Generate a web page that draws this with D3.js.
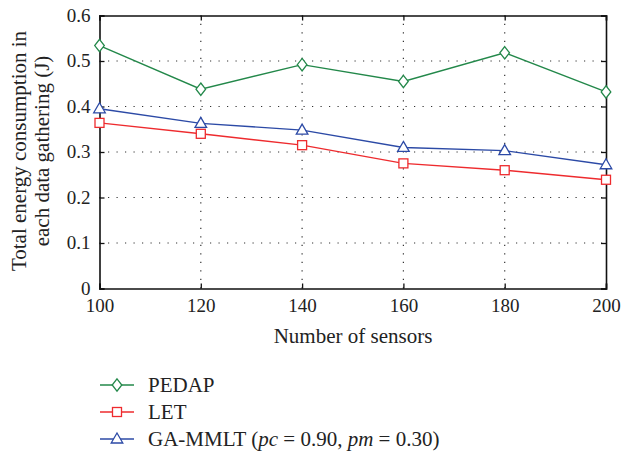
<!DOCTYPE html>
<html>
<head>
<meta charset="utf-8">
<script src="https://cdn.jsdelivr.net/npm/d3@7"></script>
<style>
  body { margin: 0; background: #fff; }
  text { font-family: "Liberation Serif", "DejaVu Serif", serif; fill: #222; }
</style>
</head>
<body>
<div id="container"></div>
<script>
/* DATA */
const sensors = [100, 120, 140, 160, 180, 200];
const pedap = [0.534, 0.438, 0.492, 0.455, 0.518, 0.432];
const let_ = [0.364, 0.340, 0.315, 0.275, 0.260, 0.239];
const gaMmlt = [0.395, 0.363, 0.348, 0.310, 0.303, 0.272];
const yTicks = [0, 0.1, 0.2, 0.3, 0.4, 0.5, 0.6];

const width = 621, height = 452;

const series = [
  { name: "PEDAP", values: pedap, color: "#23884a", shape: "diamond" },
  { name: "LET", values: let_, color: "#ee2b2e", shape: "square" },
  { name: "GA-MMLT", values: gaMmlt, color: "#2c4aa6", shape: "triangle" }
];

const svg = d3.select("#container").append("svg")
  .attr("width", width).attr("height", height);

const xScale = d3.scaleLinear().domain([100, 200]).range([99.5, 606]);
const yScale = d3.scaleLinear().domain([0, 0.6]).range([288.5, 15.5]);

// grid
svg.append("g").selectAll("line.gy")
  .data(yTicks.slice(1, -1)).join("line")
  .attr("x1", xScale(100)).attr("x2", xScale(200))
  .attr("y1", d => yScale(d)).attr("y2", d => yScale(d))
  .attr("stroke", "#333").attr("stroke-width", 1.2).attr("stroke-dasharray", "1.2,7.3");
svg.append("g").selectAll("line.gx")
  .data(sensors.slice(1, -1)).join("line")
  .attr("x1", d => xScale(d)).attr("x2", d => xScale(d))
  .attr("y1", yScale(0)).attr("y2", yScale(0.6))
  .attr("stroke", "#333").attr("stroke-width", 1.2).attr("stroke-dasharray", "1.2,7.3");

// axes (inner ticks all round)
const tickFont = 19, titleFont = 21;
svg.append("g").attr("transform", `translate(0,${yScale(0)})`)
  .call(d3.axisBottom(xScale).tickValues(sensors).tickSize(-5).tickPadding(10));
const yAxis = svg.append("g").attr("transform", `translate(${xScale(100)},0)`)
  .call(d3.axisLeft(yScale).tickValues(yTicks).tickFormat(d => d === 0 ? "0" : d3.format(".1f")(d)).tickSize(-5).tickPadding(9));
svg.append("g").attr("transform", `translate(0,${yScale(0.6)})`)
  .call(d3.axisTop(xScale).tickValues(sensors).tickSize(-5).tickFormat(""));
svg.append("g").attr("transform", `translate(${xScale(200)},0)`)
  .call(d3.axisRight(yScale).tickValues(yTicks).tickSize(-5).tickFormat(""));
svg.selectAll(".domain").attr("stroke", "#111").attr("stroke-width", 1.6);
svg.selectAll(".tick line").attr("stroke", "#111").attr("stroke-width", 1.3);
svg.selectAll(".tick text").attr("font-size", tickFont)
  .attr("font-family", "Liberation Serif, serif").attr("fill", "#222");
yAxis.selectAll(".tick text").attr("dy", "0.3em");

// titles
svg.append("text").attr("x", 353).attr("y", 343).attr("text-anchor", "middle")
  .attr("font-size", titleFont).text("Number of sensors");
const yt = svg.append("text").attr("transform", "translate(0,151) rotate(-90)")
  .attr("text-anchor", "middle").attr("font-size", titleFont);
yt.append("tspan").attr("x", 0).attr("y", 26).text("Total energy consumption in");
yt.append("tspan").attr("x", 0).attr("y", 49).text("each data gathering (J)");

// markers
function marker(g, shape, color) {
  if (shape === "diamond") g.append("path").attr("d", "M0,-6.2L4.8,0L0,6.2L-4.8,0Z");
  else if (shape === "square") g.append("rect").attr("x", -4.5).attr("y", -4.5).attr("width", 9).attr("height", 9);
  else g.append("path").attr("d", "M0,-6L5.8,4L-5.8,4Z");
  g.selectAll("*").attr("fill", "#fff").attr("stroke", color).attr("stroke-width", 1.3);
}

const line = d3.line().x((d, i) => xScale(sensors[i])).y(d => yScale(d));
series.forEach(s => {
  svg.append("path").datum(s.values).attr("d", line)
    .attr("fill", "none").attr("stroke", s.color).attr("stroke-width", 1.4);
  s.values.forEach((v, i) => {
    const g = svg.append("g").attr("transform", `translate(${xScale(sensors[i])},${yScale(v)})`);
    marker(g, s.shape, s.color);
  });
});

// legend
const legY = [385, 412, 439];
series.forEach((s, i) => {
  const lg = svg.append("g").attr("transform", `translate(100,${legY[i]})`);
  lg.append("line").attr("x1", 0).attr("x2", 34).attr("stroke", s.color).attr("stroke-width", 1.4);
  marker(lg.append("g").attr("transform", "translate(17,0)"), s.shape, s.color);
  const t = lg.append("text").attr("x", 48).attr("y", 0).attr("dy", "0.33em").attr("font-size", titleFont);
  if (s.name === "GA-MMLT") {
    t.append("tspan").text("GA-MMLT (");
    t.append("tspan").attr("font-style", "italic").text("pc");
    t.append("tspan").text(" = 0.90, ");
    t.append("tspan").attr("font-style", "italic").text("pm");
    t.append("tspan").text(" = 0.30)");
  } else {
    t.text(s.name);
  }
});
</script>
</body>
</html>
